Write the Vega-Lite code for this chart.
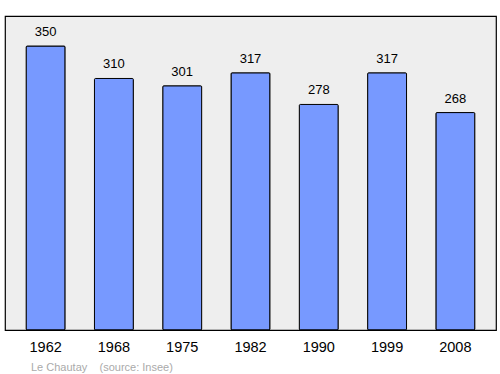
{
  "$schema": "https://vega.github.io/schema/vega-lite/v6.json",
  "width": 491,
  "height": 314,
  "autosize": "none",
  "padding": {"left": 5, "top": 16, "right": 4, "bottom": 44},
  "background": "white",
  "config": {
    "view": {"fill": "#eeeeee", "stroke": "#000000", "strokeWidth": 1.2},
    "font": "Liberation Sans"
  },
  "title": {
    "text": "Le Chautay\u00a0\u00a0\u00a0\u00a0(source: Insee)",
    "orient": "bottom",
    "anchor": "start",
    "frame": "group",
    "dx": 26,
    "offset": 8,
    "fontSize": 11,
    "fontWeight": "normal",
    "color": "#aaaaaa",
    "font": "Liberation Sans"
  },
  "data": {
    "values": [
      {"year": "1962", "pop": 350},
      {"year": "1968", "pop": 310},
      {"year": "1975", "pop": 301},
      {"year": "1982", "pop": 317},
      {"year": "1990", "pop": 278},
      {"year": "1999", "pop": 317},
      {"year": "2008", "pop": 268}
    ]
  },
  "encoding": {
    "x": {
      "field": "year",
      "type": "ordinal",
      "sort": null,
      "scale": {"paddingInner": 0.43, "paddingOuter": 0.31},
      "axis": {
        "title": null,
        "labelAngle": 0,
        "labelFontSize": 14.5,
        "labelColor": "#000000",
        "labelPadding": 10,
        "ticks": false,
        "domain": false,
        "labelFont": "Liberation Sans"
      }
    },
    "y": {
      "field": "pop",
      "type": "quantitative",
      "scale": {"domain": [0, 387], "nice": false},
      "axis": null
    }
  },
  "layer": [
    {
      "mark": {"type": "bar", "color": "#7799ff", "stroke": "#000000", "strokeWidth": 1, "cornerRadius": 1}
    },
    {
      "mark": {"type": "text", "dy": -14, "fontSize": 13, "color": "#000000", "font": "Liberation Sans"},
      "encoding": {"text": {"field": "pop", "type": "quantitative"}}
    }
  ]
}
